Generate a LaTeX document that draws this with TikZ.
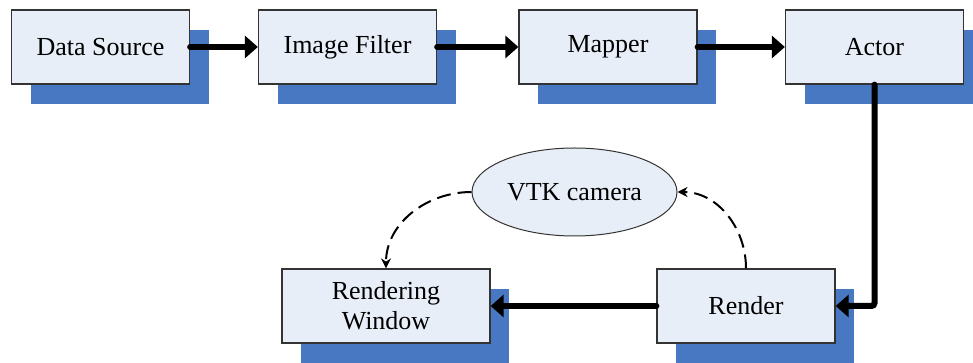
\documentclass[tikz,border=0pt]{standalone}
\usepackage{fontspec}
\setmainfont{Liberation Serif}
\usetikzlibrary{arrows.meta,shapes.geometric,shadows}

\definecolor{boxfill}{HTML}{E8EEF8}
\definecolor{shadowblue}{HTML}{4878C2}
\definecolor{edgegray}{HTML}{333333}

\tikzset{
  stage/.style={draw=edgegray, line width=1.3pt, fill=boxfill,
    minimum width=178pt, minimum height=74pt, inner sep=0pt,
    font=\fontsize{26}{30}\selectfont, align=center,
    drop shadow={shadow xshift=19pt, shadow yshift=-20pt,
      fill=shadowblue, opacity=1}},
  camnode/.style={ellipse, draw=edgegray, line width=1pt, fill=boxfill,
    minimum width=205pt, minimum height=88pt, inner sep=0pt,
    font=\fontsize{26}{30}\selectfont},
  flow/.style={line width=6pt, line cap=round,
    -{Triangle[length=13pt,width=22pt]}},
  feedback/.style={line width=2pt, dash pattern=on 14pt off 7pt,
    -{Stealth[length=10pt,width=10pt]}}
}

\begin{document}
\begin{tikzpicture}[x=1pt,y=1pt]
  \useasboundingbox (0,0) rectangle (973,363);
  \clip (0,0) rectangle (973,363);

  % pipeline stages
  \node[stage] (src)    at (100.5,316) {Data Source};
  \node[stage] (filter) at (347.5,316) {Image Filter};
  \node[stage] (mapper) at (608,316)   {Mapper};
  \node[stage] (actor)  at (874.5,316) {Actor};
  \node[stage] (render) at (746,57)    {Render};
  \node[stage, minimum width=208pt] (window) at (386,57) {Rendering\\Window};

  % camera
  \node[camnode] (cam) at (574.5,171) {VTK camera};

  % data flow
  \draw[flow] (src.east) -- (filter.west);
  \draw[flow] (filter.east) -- (mapper.west);
  \draw[flow] (mapper.east) -- (actor.west);
  \draw[flow, rounded corners=3pt] (actor.south) |- (render.east);
  \draw[flow] (render.west) -- (window.east);

  % camera links
  \draw[feedback] (cam.west) to[out=180,in=90] (window.north);
  \draw[feedback] (render.north) to[out=90,in=0] (cam.east);
\end{tikzpicture}
\end{document}
